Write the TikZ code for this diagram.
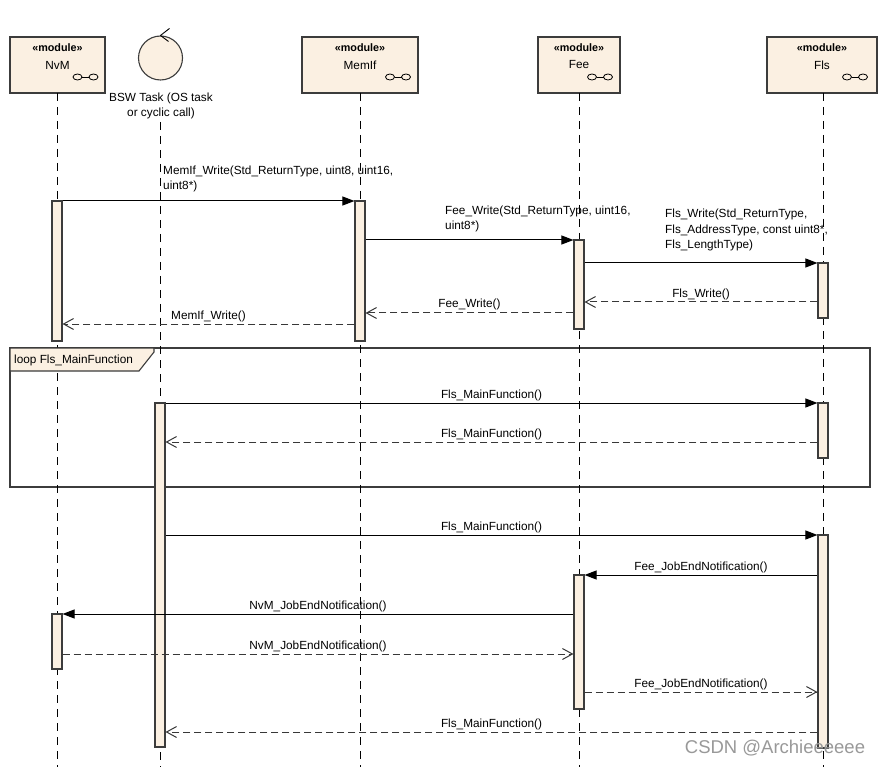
\documentclass[tikz,border=0pt]{standalone}
\usepackage{fontspec}
\setmainfont{Liberation Sans}
\usetikzlibrary{arrows.meta}
\definecolor{beige}{HTML}{FBF0E2}
\definecolor{edge}{HTML}{3C3C3C}
\definecolor{dashc}{HTML}{383838}
\begin{document}
\begin{tikzpicture}[x=1pt,y=-1pt,
  font=\fontsize{11.8}{15}\selectfont,
  module/.style={draw=edge, fill=beige, line width=1.2pt, inner sep=0pt, minimum height=56pt},
  stereo/.style={font=\bfseries\fontsize{10.8}{12}\selectfont, inner sep=0pt},
  mname/.style={inner sep=0pt},
  life/.style={draw=black, line width=0.9pt, dash pattern=on 8pt off 6pt},
  bar/.style={draw=edge, fill=beige, line width=1.1pt, minimum width=10pt, inner sep=0pt},
  call/.style={draw=black, line width=1pt, -{Triangle[length=12pt,width=9pt]}},
  ret/.style={draw=dashc, line width=1pt, dash pattern=on 7pt off 4pt, -{Straight Barb[length=10pt,width=11pt,line width=1pt]}},
  lbl/.style={inner sep=2pt},
  mlbl/.style={inner sep=0pt, anchor=north west, align=left},
  lnk/.pic={
    \draw[draw=black, line width=0.8pt] (-8,0) ellipse [x radius=4.5pt, y radius=3pt];
    \draw[draw=black, line width=0.8pt] (8,0) ellipse [x radius=4.5pt, y radius=3pt];
    \draw[draw=black, line width=0.8pt] (-3.5,0) -- (3.5,0);
  }
]
\useasboundingbox (0,0) rectangle (878,767);
\fill[white] (0,0) rectangle (878,767);

% loop frame
\node[draw=edge, line width=1.3pt, minimum width=860pt, minimum height=139pt, inner sep=0pt] (loop) at (440,417.5) {};

% modules
\node[module, minimum width=95pt] (nvm) at (57.5,65) {};
\node[module, minimum width=116pt] (memif) at (360,65) {};
\node[module, minimum width=82pt] (fee) at (579,65) {};
\node[module, minimum width=110pt] (fls) at (822,65) {};

\foreach \n/\x/\t/\ix in {nvm/57.5/NvM/85.5, memif/360/MemIf/398, fee/579/Fee/600, fls/822/Fls/855}{
  \node[stereo] (\n st) at (\x,48) {«module»};
  \node[mname] (\n nm) at (\x,65) {\t};
  \pic at (\ix,77) {lnk};
}

% BSW task
\node[circle, draw=edge, fill=beige, line width=1.1pt, minimum size=44pt, inner sep=0pt] (bsw) at (160.5,58) {};
\draw[draw=black, line width=0.9pt] (bsw.north) -- ++(9,-7);
\draw[draw=black, line width=0.9pt] (bsw.north) -- ++(8,6);
\node[align=center, inner sep=0pt] (bswlbl) at (161,105.5) {BSW Task (OS task\\or cyclic call)};

% lifelines
\coordinate (nvmB) at (57,767);
\coordinate (bswB) at (160,767);
\coordinate (memifB) at (360,767);
\coordinate (feeB) at (579,767);
\coordinate (flsB) at (823,767);
\draw[life] (57,93) -- (nvmB);
\draw[life] (160,122) -- (bswB);
\draw[life] (360,93) -- (memifB);
\draw[life] (579,93) -- (feeB);
\draw[life] (823,93) -- (flsB);

% loop tab (over lifelines)
\draw[draw=edge, line width=1.1pt, fill=beige] (10,348) -- (154,348) -- (154,352) -- (139,371) -- (10,371) -- cycle;
\node[anchor=west, inner sep=0pt] (looplbl) at (14,360) {loop Fls\_MainFunction};

% activation bars
\node[bar, minimum height=140pt] (nvm1) at (57,271) {};
\node[bar, minimum height=140pt] (memif1) at (360,271) {};
\node[bar, minimum height=89pt] (fee1) at (579,284.5) {};
\node[bar, minimum height=55pt] (fls1) at (823,290.5) {};
\node[bar, minimum height=55pt] (fls2) at (823,430.5) {};
\node[bar, minimum height=344pt] (bsw1) at (160,575) {};
\node[bar, minimum height=213pt] (fls3) at (823,641.5) {};
\node[bar, minimum height=134pt] (fee2) at (579,642) {};
\node[bar, minimum height=55pt] (nvm2) at (57,641.5) {};

% messages, upper part
\draw[call] (nvm1.east |- 0,201) -- (memif1.west |- 0,201);
\node[mlbl] (l1) at (163,166) {MemIf\_Write(Std\_ReturnType, uint8, uint16,\\uint8*)};
\draw[call] (memif1.east |- 0,240) -- (fee1.west |- 0,240);
\node[mlbl] (l2) at (445,206) {Fee\_Write(Std\_ReturnType, uint16,\\uint8*)};
\draw[call] (fee1.east |- 0,263) -- (fls1.west |- 0,263);
\node[mlbl, font=\fontsize{11.8}{15.5}\selectfont] (l3) at (665,209) {Fls\_Write(Std\_ReturnType,\\Fls\_AddressType, const uint8*,\\Fls\_LengthType)};
\draw[ret] (fls1.west |- 0,302) -- (fee1.east |- 0,302) node[midway, above, lbl] {Fls\_Write()};
\draw[ret] (fee1.west |- 0,313) -- (memif1.east |- 0,313) node[midway, above, lbl, yshift=1pt] {Fee\_Write()};
\draw[ret] (memif1.west |- 0,324) -- (nvm1.east |- 0,324) node[midway, above, lbl] {MemIf\_Write()};

% loop
\draw[call] (bsw1.east |- 0,403) -- (fls2.west |- 0,403) node[midway, above, lbl] {Fls\_MainFunction()};
\draw[ret] (fls2.west |- 0,442) -- (bsw1.east |- 0,442) node[midway, above, lbl] {Fls\_MainFunction()};

% lower part
\draw[call] (bsw1.east |- 0,535) -- (fls3.west |- 0,535) node[midway, above, lbl] {Fls\_MainFunction()};
\draw[call] (fls3.west |- 0,575) -- (fee2.east |- 0,575) node[midway, above, lbl] {Fee\_JobEndNotification()};
\draw[call] (fee2.west |- 0,614) -- (nvm2.east |- 0,614) node[midway, above, lbl] {NvM\_JobEndNotification()};
\draw[ret] (nvm2.east |- 0,654) -- (fee2.west |- 0,654) node[midway, above, lbl] {NvM\_JobEndNotification()};
\draw[ret] (fee2.east |- 0,692) -- (fls3.west |- 0,692) node[midway, above, lbl] {Fee\_JobEndNotification()};
\draw[ret] (fls3.west |- 0,732) -- (bsw1.east |- 0,732) node[midway, above, lbl] {Fls\_MainFunction()};

% watermark
\node[text=black!40, font=\fontsize{18.5}{20}\selectfont, inner sep=0pt] (wm) at (775,748) {CSDN @Archieeeeee};
\end{tikzpicture}
\end{document}
